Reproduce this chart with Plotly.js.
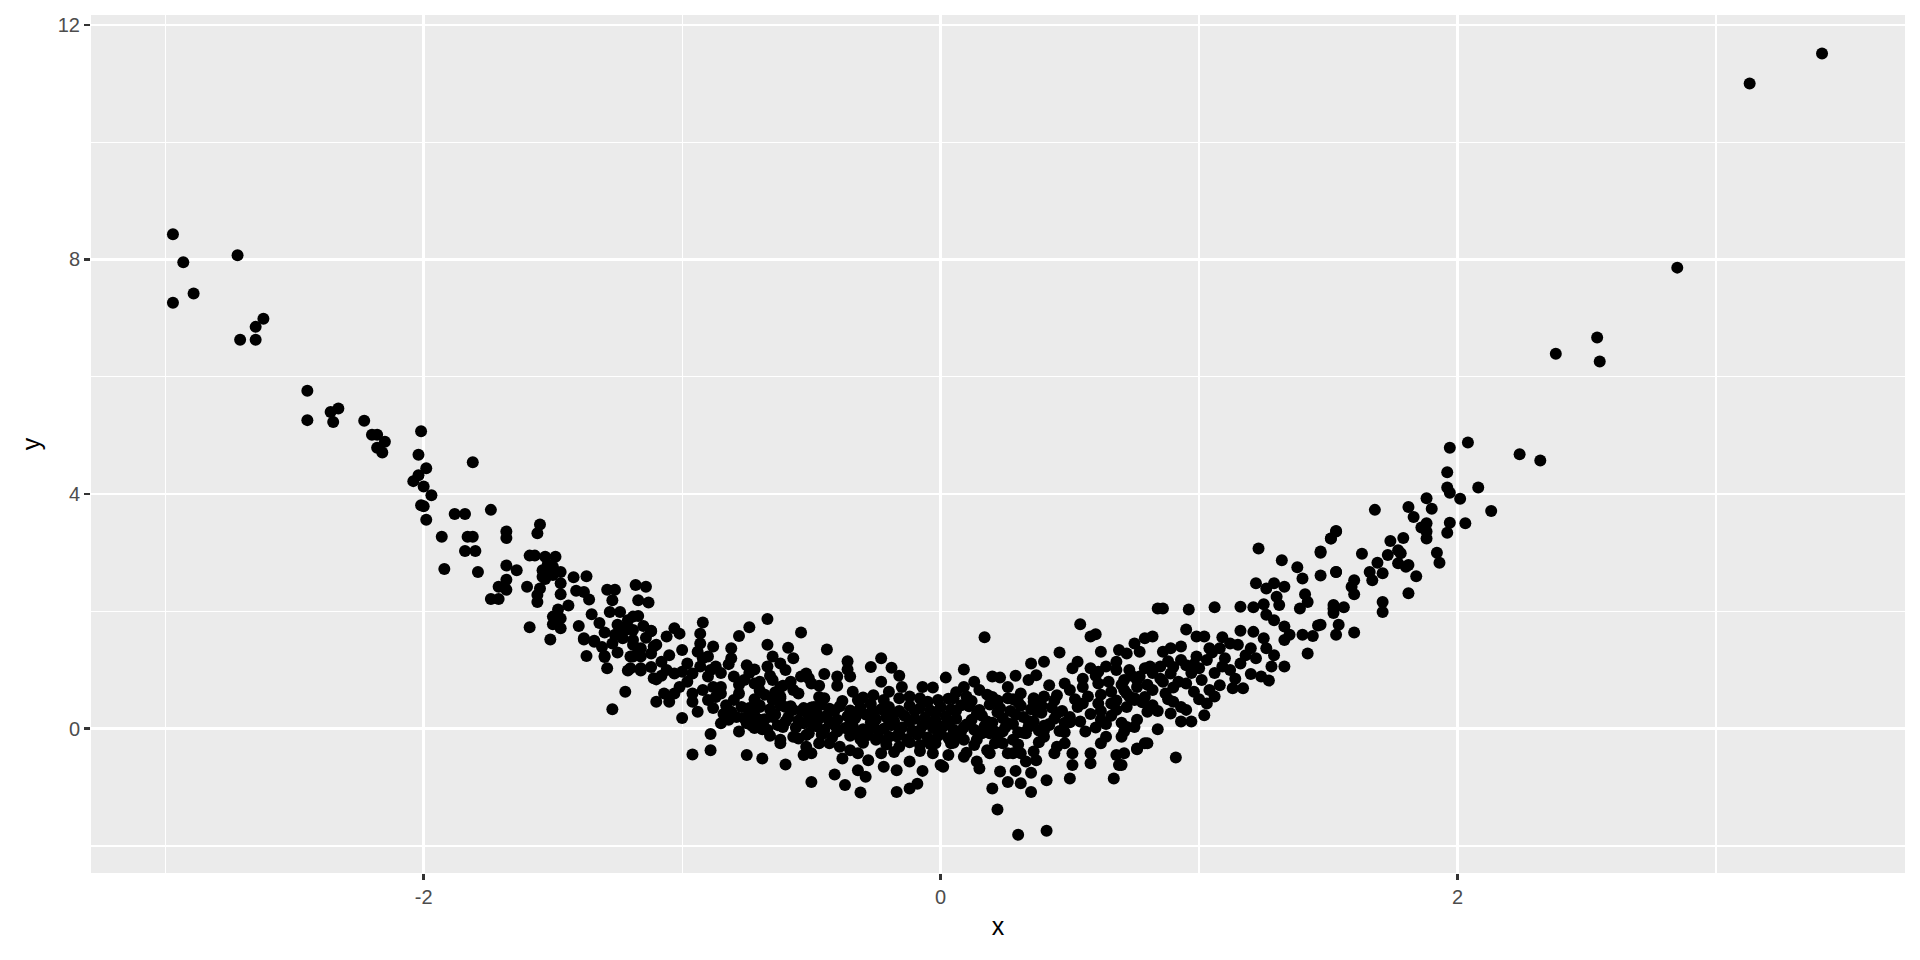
<!DOCTYPE html>
<html>
<head>
<meta charset="utf-8">
<script src="https://cdn.plot.ly/plotly-3.0.1.min.js"></script>
<style>html,body{margin:0;padding:0;background:#fff;}#chart{width:1920px;height:960px;}</style>
</head>
<body>
<div id="chart"></div>
<script>
// Points, grouped by region: [x, y]
const leftArm = [
[-2.97,8.43],[-2.93,7.95],[-2.72,8.07],[-2.89,7.42],[-2.97,7.26],[-2.62,6.99],[-2.65,6.85],[-2.71,6.63],[-2.65,6.63],
[-2.45,5.76],[-2.45,5.26],[-2.36,5.40],[-2.33,5.46],[-2.35,5.23],[-2.23,5.25],[-2.20,5.01],[-2.18,5.01],[-2.15,4.89],
[-2.18,4.79],[-2.16,4.71],[-2.01,5.07],[-2.02,4.67],[-1.99,4.44],[-1.81,4.54],[-2.02,4.32],[-2.04,4.22],[-2.00,4.13],
[-1.97,3.98],[-2.01,3.81],[-2.00,3.79],[-1.99,3.56],[-1.88,3.66],[-1.84,3.66],[-1.74,3.73],[-1.93,3.27],[-1.83,3.27],
[-1.81,3.27],[-1.84,3.03],[-1.80,3.03],[-1.92,2.72],[-1.79,2.67],[-1.68,3.36],[-1.68,3.25],[-1.55,3.48],[-1.56,3.33],
[-1.68,2.78],[-1.64,2.70],[-1.68,2.54],[-1.71,2.42],[-1.68,2.37],[-1.74,2.21],[-1.71,2.21],[-1.60,2.42],[-1.59,2.95],
[-1.57,2.95],[-1.53,2.93],[-1.49,2.93],[-1.54,2.70],[-1.50,2.76],[-1.47,2.67],[-1.54,2.59],[-1.50,2.62],[-1.55,2.39],
[-1.56,2.28],[-1.56,2.16],[-1.47,2.48],[-1.47,2.29],[-1.42,2.58],[-1.37,2.60],[-1.41,2.35],[-1.38,2.33],[-1.36,2.20],
[-1.48,2.03],[-1.50,1.91],[-1.47,1.88],[-1.50,1.78],[-1.47,1.71],[-1.59,1.73],[-1.51,1.52],[-1.35,1.95],[-1.29,2.37],
[-1.26,2.37],[-1.27,2.19],[-1.18,2.45],[-1.14,2.42],[-1.17,2.19],[-1.13,2.15],[-1.28,1.99],[-1.24,1.99],[-1.17,1.92],
[-1.25,1.77],[-1.22,1.68],[-1.19,1.68],[-1.30,1.64],[-1.12,1.66],[-1.38,1.52],[-1.34,1.50],[-1.27,1.45],[-1.23,1.54],
[-1.19,1.51],[-1.16,1.37],[-1.11,1.40],[-1.37,1.24],[-1.30,1.24],[-1.19,1.23],[-1.29,1.03],[-1.20,1.03],[-1.16,1.03],
[-1.11,0.86],[-1.22,0.63],[-1.52,2.80],[-1.51,2.65],[-1.53,2.55],[-1.21,1.85],[-1.15,1.75],[-1.26,1.60],[-1.14,1.55]
];
const leftTrough = [
[-1.19,1.91],[-1.23,1.72],[-1.21,1.72],[-1.38,1.54],[-1.34,1.48],[-1.31,1.39],[-1.30,1.22],[-1.19,1.43],[-1.17,1.31],
[-1.20,1.23],[-1.16,1.23],[-1.21,0.99],[-1.16,0.99],[-1.12,1.67],[-1.10,1.43],[-1.12,1.28],[-1.10,0.84],[-1.08,1.14],
[-1.06,1.00],[-1.06,1.57],[-1.03,1.71],[-1.01,1.62],[-1.27,0.33],[-1.10,0.46],[-1.07,0.60],[-1.05,0.46],[-1.03,0.60],
[-1.01,0.71],[-1.00,1.34],[-0.98,1.11],[-1.00,0.97],[-1.03,0.94],[-0.96,0.94],[-0.93,1.06],[-0.94,1.31],[-0.93,1.45],
[-0.92,1.81],[-0.93,1.62],[-1.00,0.18],[-0.96,0.60],[-0.96,0.46],[-0.94,0.29],[-0.92,0.66],[-0.90,0.49],[-0.90,1.23],
[-0.88,1.40],[-0.87,1.06],[-0.89,1.00],[-0.90,0.89],[-0.88,0.71],[-0.85,0.71],[-0.87,0.54],[-0.89,-0.09],[-0.89,-0.37],
[-0.96,-0.44],[-0.85,0.09],[-0.83,0.40],[-0.80,0.49],[-0.81,0.29],[-0.78,0.60],[-0.77,0.37],[-0.81,1.37],[-0.81,1.20],
[-0.78,1.58],[-0.74,1.73],[-0.75,1.08],[-0.72,1.01],[-0.80,0.89],[-0.76,0.83],[-0.72,0.77],[-0.70,0.80],[-0.67,1.06],
[-0.67,1.43],[-0.67,1.87],[-0.78,-0.05],[-0.75,0.09],[-0.74,0.26],[-0.72,0.01],[-0.70,0.37],[-0.67,-0.02],[-0.75,-0.45],
[-0.69,-0.51],[-0.65,1.23],[-0.62,1.11],[-0.60,1.00],[-0.59,1.38],[-0.57,1.20],[-0.65,0.83],[-0.62,0.71],[-0.57,0.66],
[-0.54,0.89],[-0.52,0.94],[-0.50,0.77],[-0.54,1.64],[-0.65,0.49],[-0.62,0.40],[-0.60,0.37],[-0.57,0.32],[-0.53,0.35],
[-0.49,0.37],[-0.65,0.20],[-0.61,0.03],[-0.57,-0.14],[-0.53,0.09],[-0.51,-0.08],[-0.52,-0.31],[-0.50,-0.42],[-0.60,-0.61],
[-0.50,-0.91],[-0.62,-0.19],[-0.85,0.60],[-0.82,0.15],[-0.79,0.20],[-0.72,0.50],[-0.68,0.58],[-0.64,0.62],[-0.70,0.15],
[-0.60,0.12],
[-1.05,1.25],[-0.98,0.80],[-0.92,1.20],[-0.85,0.95],[-0.82,1.10],[-0.78,0.75],[-0.74,0.95],[-0.70,0.65],[-0.66,0.90],
[-0.62,0.55],[-0.58,0.80],[-0.55,0.60],[-0.88,0.35],[-0.84,0.25],[-1.12,1.05],[-1.08,0.90],[-1.25,1.30],[-1.40,1.75],
[-1.44,2.10],[-1.32,1.80]
];
const centerLeft = [
[-0.44,1.35],[-0.36,1.15],[-0.27,1.05],[-0.23,1.20],[-0.19,1.04],[-0.16,0.90],[-0.15,0.71],[-0.45,0.93],[-0.51,0.86],
[-0.47,0.73],[-0.40,0.89],[-0.35,0.89],[-0.40,0.73],[-0.36,1.01],[-0.61,0.73],[-0.47,0.54],[-0.62,0.52],[-0.34,0.63],
[-0.32,0.49],[-0.26,0.57],[-0.23,0.80],[-0.20,0.63],[-0.16,0.52],[-0.07,0.71],[-0.03,0.70],[0.02,0.87],[-0.08,0.52],
[-0.01,0.49],[0.05,0.52],
[-0.74,0.35],[-0.70,0.40],[-0.66,0.33],[-0.58,0.38],[-0.54,0.30],[-0.50,0.36],[-0.46,0.41],[-0.43,0.34],[-0.39,0.38],
[-0.35,0.31],[-0.31,0.36],[-0.27,0.42],[-0.23,0.33],[-0.20,0.37],[-0.16,0.30],[-0.12,0.39],[-0.08,0.35],[-0.04,0.31],
[0.00,0.37],[0.04,0.33],[0.08,0.40],
[-0.76,0.18],[-0.72,0.22],[-0.68,0.16],[-0.64,0.24],[-0.59,0.19],[-0.55,0.14],[-0.51,0.22],[-0.47,0.17],[-0.44,0.23],
[-0.40,0.15],[-0.36,0.21],[-0.33,0.18],[-0.29,0.24],[-0.25,0.16],[-0.21,0.20],[-0.18,0.13],[-0.14,0.22],[-0.10,0.17],
[-0.06,0.19],[-0.02,0.14],[0.02,0.21],[0.06,0.17],
[-0.73,0.05],[-0.69,-0.01],[-0.63,0.06],[-0.56,0.02],[-0.48,0.04],[-0.45,-0.02],[-0.41,0.06],[-0.37,0.01],[-0.34,0.05],
[-0.30,-0.01],[-0.26,0.04],[-0.22,0.00],[-0.19,0.06],[-0.15,0.02],[-0.11,-0.03],[-0.07,0.05],[-0.03,0.01],[0.01,0.04],
[0.05,-0.02],[0.09,0.03],
[-0.66,-0.12],[-0.55,-0.17],[-0.46,-0.10],[-0.42,-0.15],[-0.35,-0.12],[-0.31,-0.18],[-0.28,-0.11],[-0.24,-0.16],
[-0.17,-0.13],[-0.13,-0.18],[-0.09,-0.10],[-0.05,-0.15],[-0.01,-0.12],[0.03,-0.16],[0.07,-0.11],
[-0.62,-0.25],[-0.52,-0.11],[-0.53,-0.45],[-0.41,-0.78],[-0.37,-0.96],[-0.31,-1.09],[-0.38,-0.51],[-0.35,-0.37],
[-0.32,-0.42],[-0.32,-0.71],[-0.29,-0.82],[-0.28,-0.54],[-0.23,-0.42],[-0.22,-0.65],[-0.17,-0.71],[-0.17,-1.08],
[-0.12,-1.02],[-0.09,-0.94],[-0.07,-0.72],[-0.12,-0.56],[-0.16,-0.31],[-0.08,-0.28],[-0.03,-0.42],[0.00,-0.62],
[-0.02,-0.25],[0.03,-0.45],[-0.47,-0.25],[-0.43,-0.25],[-0.39,-0.31],[-0.25,-0.19],[-0.20,-0.14]
];
const denseCore = [
[-0.45,0.52],[-0.38,0.47],[-0.30,0.53],[-0.22,0.49],[-0.12,0.55],[-0.05,0.46],[0.03,0.51],[0.12,0.47],[0.20,0.54],
[0.28,0.50],[0.36,0.46],
[-0.48,0.27],[-0.41,0.31],[-0.33,0.25],[-0.26,0.29],[-0.18,0.26],[-0.10,0.30],[-0.02,0.27],[0.06,0.31],[0.14,0.25],
[0.22,0.28],[0.29,0.24],[0.37,0.30],[0.45,0.26],
[-0.50,0.09],[-0.43,0.12],[-0.35,0.08],[-0.27,0.11],[-0.20,0.07],[-0.12,0.12],[-0.04,0.09],[0.03,0.11],[0.10,0.07],
[0.18,0.12],[0.26,0.09],[0.34,0.13],[0.42,0.08],[0.50,0.11],
[-0.40,-0.05],[-0.32,-0.08],[-0.24,-0.04],[-0.16,-0.07],[-0.08,-0.03],[0.00,-0.06],[0.08,-0.04],[0.16,-0.08],
[0.24,-0.05],[0.32,-0.07],[0.40,-0.03],[0.48,-0.06],
[-0.30,-0.24],[-0.21,-0.27],[-0.12,-0.23],[-0.04,-0.26],[0.05,-0.24],[0.13,-0.28],[0.21,-0.25],[0.30,-0.27],[0.38,-0.23],
[-0.18,-0.40],[-0.08,-0.38],[0.10,-0.41],[0.18,-0.37],[0.26,-0.42],[0.36,-0.39]
];
const centerRight = [
[0.17,1.56],[0.54,1.78],[0.58,1.57],[0.60,1.61],[0.46,1.30],[0.62,1.31],[0.69,1.34],[0.72,1.28],[0.75,1.45],[0.79,1.54],
[0.77,1.31],[0.09,1.01],[0.20,0.89],[0.23,0.87],[0.29,0.90],[0.35,1.11],[0.40,1.14],[0.37,0.91],[0.34,0.83],[0.42,0.74],
[0.48,0.77],[0.51,1.03],[0.53,1.14],[0.58,1.03],[0.61,0.97],[0.64,1.06],[0.68,1.14],[0.68,1.00],[0.73,1.00],[0.76,0.83],
[0.79,1.03],[0.09,0.71],[0.13,0.80],[0.15,0.66],[0.26,0.71],[0.31,0.60],[0.26,0.52],[0.36,0.52],[0.39,0.40],[0.45,0.57],
[0.50,0.66],[0.55,0.71],[0.61,0.77],[0.66,0.63],[0.71,0.66],[0.75,0.52],[0.53,0.37],[0.55,0.43],[0.61,0.43],[0.66,0.43],
[0.72,0.37],
[0.01,-0.65],[0.09,-0.48],[0.14,-0.56],[0.15,-0.68],[0.19,-0.42],[0.20,-1.02],[0.22,-1.38],[0.23,-0.73],[0.26,-0.91],
[0.29,-0.72],[0.31,-0.93],[0.35,-1.08],[0.35,-0.75],[0.41,-0.88],[0.30,-1.81],[0.41,-1.74],[0.28,-0.42],[0.31,-0.42],
[0.33,-0.56],[0.37,-0.54],[0.44,-0.42],[0.45,-0.31],[0.48,-0.25],[0.50,-0.85],[0.51,-0.62],[0.51,-0.42],[0.58,-0.59],
[0.58,-0.42],[0.62,-0.25],[0.64,-0.14],[0.67,-0.85],[0.68,-0.45],[0.69,-0.62],[0.76,-0.34],[0.79,-0.25],[0.71,-0.05],
[0.75,0.03],[0.28,-0.19],[0.33,-0.08],[0.40,-0.14],[0.24,-0.25],[0.22,-0.14],[0.04,-0.25],[0.09,-0.19],[0.14,-0.19],
[0.19,-0.08],
[0.11,0.38],[0.15,0.32],[0.19,0.41],[0.23,0.35],[0.27,0.30],[0.31,0.39],[0.35,0.33],[0.39,0.27],[0.43,0.36],[0.47,0.30],
[0.12,0.15],[0.16,0.22],[0.20,0.10],[0.24,0.18],[0.28,0.08],[0.32,0.20],[0.36,0.12],[0.40,0.05],[0.44,0.17],[0.48,0.10],
[0.13,-0.02],[0.17,0.04],[0.21,-0.05],[0.25,0.02],[0.30,-0.06],[0.34,0.03],[0.38,-0.03],[0.42,0.06],[0.46,-0.04],
[0.50,0.20],[0.54,0.12],[0.58,0.25],[0.62,0.15],[0.66,0.22],[0.70,0.10],[0.56,-0.05],[0.60,0.02],[0.64,0.08],[0.52,0.50],
[0.57,0.55],[0.62,0.58],[0.68,0.48],[0.73,0.55],[0.78,0.45],[0.06,0.62],[0.10,0.55],[0.18,0.58],[0.22,0.48],[0.30,0.45],
[0.40,0.55],[0.44,0.48]
];
const rightRise = [
[1.23,3.07],[1.32,2.87],[1.38,2.75],[1.40,2.56],[1.47,3.00],[1.47,2.61],[1.51,3.24],[1.53,3.36],[1.53,2.67],[1.22,2.48],
[1.26,2.39],[1.29,2.48],[1.33,2.42],[1.30,2.25],[1.31,2.11],[1.41,2.29],[1.39,2.05],[1.42,2.16],[1.52,2.05],[1.53,1.60],
[1.46,1.76],[1.40,1.60],[1.44,1.58],[0.84,2.05],[0.86,2.05],[0.96,2.03],[1.06,2.07],[1.16,2.08],[1.21,2.07],[1.25,2.12],
[1.26,1.94],[1.29,1.85],[1.33,1.74],[1.35,1.60],[1.33,1.51],[1.42,1.28],[1.33,1.06],
[0.95,1.69],[0.99,1.57],[1.02,1.57],[1.09,1.56],[1.16,1.67],[1.21,1.65],[1.25,1.54],[1.15,1.43],[1.20,1.37],[1.26,1.37],
[1.29,1.25],[1.16,1.11],[1.20,0.93],[1.24,0.89],[1.27,0.82],[1.28,1.06],[1.04,1.37],[1.08,1.37],[0.99,1.23],[1.03,1.17],
[1.09,1.06],[1.00,1.03],[1.01,0.83],[1.04,0.66],[1.08,0.74],[1.13,0.69],[1.17,0.69],[0.93,1.40],[0.89,1.37],[0.86,1.31],
[0.82,1.57],[0.93,1.17],[0.85,1.06],[0.81,1.06],[0.89,0.94],[0.95,1.08],[0.92,0.80],[0.95,0.77],[0.98,0.63],[0.87,0.60],
[0.82,0.66],[0.77,0.89],[0.71,0.83],[0.76,0.71],[0.90,0.46],[0.93,0.37],[0.95,0.32],[0.89,0.26],[0.93,0.12],[0.97,0.12],
[1.03,0.43],[1.02,0.23],[0.84,-0.01],[0.80,-0.25],[0.76,-0.35],[0.91,-0.49],[0.70,-0.62],[0.82,0.40],[0.80,0.29],
[0.76,0.15],[0.72,0.03],[0.70,-0.14],[0.71,-0.42],[0.75,0.49],[0.72,0.60],[0.79,0.54],[1.10,1.20],[1.12,1.45],[1.05,1.30],
[0.88,1.15],[0.85,0.85],[0.80,0.75],[0.90,0.70],[0.97,0.95],
[0.55,0.85],[0.60,0.90],[0.65,0.80],[0.70,0.75],[0.74,0.90],[0.82,0.95],[0.86,0.80],[0.90,1.05],[0.98,1.10],[1.06,0.95],
[1.12,1.00],[1.14,0.85],[0.88,0.50],[0.84,0.30],[0.62,0.30],[0.68,0.32],[1.00,0.50],[1.06,0.55],[1.18,1.25],[1.22,1.20]
];
const rightArm = [
[1.97,4.79],[2.04,4.88],[2.24,4.68],[2.32,4.57],[1.96,4.37],[1.96,4.11],[1.97,4.02],[2.01,3.92],[2.08,4.11],[2.13,3.71],
[2.03,3.50],[1.97,3.51],[1.96,3.34],[1.88,3.93],[1.90,3.75],[1.81,3.78],[1.83,3.61],[1.88,3.50],[1.86,3.43],[1.88,3.36],
[1.88,3.24],[1.92,3.00],[1.93,2.83],[1.68,3.73],[1.53,3.37],[1.51,3.24],[1.74,3.20],[1.79,3.25],[1.77,3.04],[1.78,2.99],
[1.73,2.96],[1.77,2.82],[1.80,2.76],[1.81,2.79],[1.84,2.60],[1.81,2.31],[1.63,2.98],[1.69,2.83],[1.66,2.67],[1.71,2.65],
[1.67,2.53],[1.60,2.53],[1.59,2.42],[1.60,2.29],[1.53,2.67],[1.47,3.02],[1.71,2.16],[1.71,1.99],[1.52,2.11],[1.56,2.07],
[1.52,1.97],[1.54,1.77],[1.60,1.64],[1.47,1.77],
[2.85,7.86],[3.13,11.00],[3.41,11.51],[2.54,6.67],[2.38,6.39],[2.55,6.26]
];

const xTickVals = [-2, 0, 2];
const xTickText = ["-2", "0", "2"];
const xMinorVals = [-3, -1, 1, 3];
const yTickVals = [0, 4, 8, 12];
const yTickText = ["0", "4", "8", "12"];
const yMinorVals = [-2, 2, 6, 10];

const allPoints = [].concat(leftArm, leftTrough, centerLeft, denseCore, centerRight, rightRise, rightArm);
const xs = allPoints.map(p => p[0]);
const ys = allPoints.map(p => p[1]);

const font = 'Liberation Sans, Arial, Helvetica, sans-serif';

const trace = {
  type: 'scatter', mode: 'markers', x: xs, y: ys,
  marker: {color: '#000000', size: 12, line: {width: 0}},
  hoverinfo: 'x+y', showlegend: false
};

const axisCommon = {
  showline: false, zeroline: false,
  gridcolor: '#FFFFFF', gridwidth: 2.4,
  ticks: 'outside', ticklen: 6, tickwidth: 2.4, tickcolor: '#333333',
  tickfont: {family: font, size: 20, color: '#4D4D4D'},
  tickmode: 'array', automargin: false
};

const layout = {
  width: 1920, height: 960,
  margin: {l: 91, r: 15, t: 15, b: 87, pad: 0},
  paper_bgcolor: '#FFFFFF', plot_bgcolor: '#EBEBEB',
  font: {family: font},
  xaxis: Object.assign({}, axisCommon, {
    range: [-3.287, 3.731], tickvals: xTickVals, ticktext: xTickText,
    minor: {tickmode: 'array', tickvals: xMinorVals, showgrid: true, gridcolor: '#FFFFFF', gridwidth: 1.2, ticks: ''},
    title: {text: 'x', font: {family: font, size: 25, color: '#000000'}, standoff: 10}
  }),
  yaxis: Object.assign({}, axisCommon, {
    range: [-2.461, 12.167], tickvals: yTickVals, ticktext: yTickText,
    minor: {tickmode: 'array', tickvals: yMinorVals, showgrid: true, gridcolor: '#FFFFFF', gridwidth: 1.2, ticks: ''},
    title: {text: 'y', font: {family: font, size: 25, color: '#000000'}, standoff: 10}
  })
};

Plotly.newPlot('chart', [trace], layout, {displayModeBar: false, staticPlot: true});
</script>
</body>
</html>
